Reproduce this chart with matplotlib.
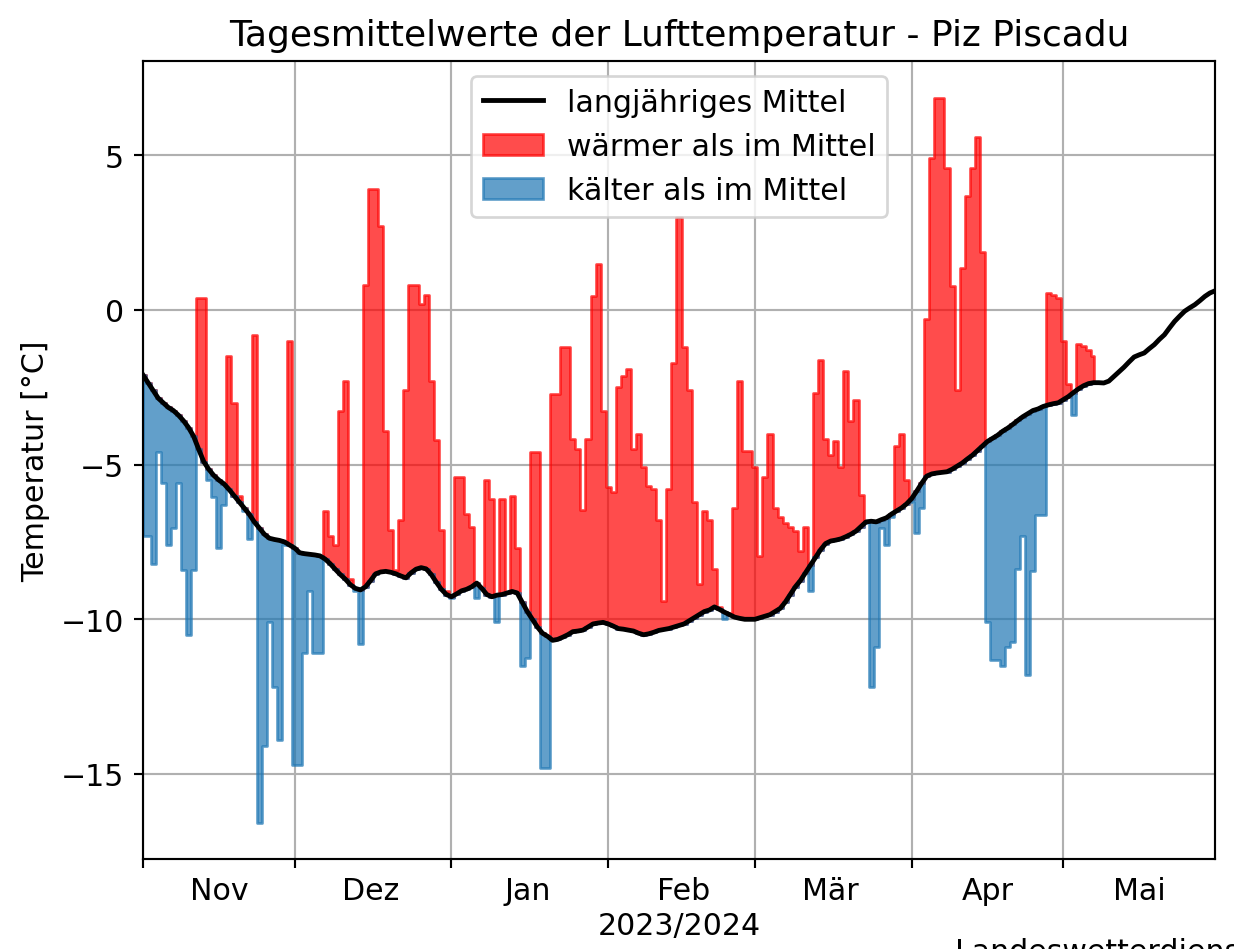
import numpy as np
import pandas as pd
import matplotlib
matplotlib.use("Agg")
import matplotlib.pyplot as plt
import matplotlib.dates as mdates
from matplotlib.ticker import FuncFormatter, NullFormatter

# ---------------- data (daily means, °C) ----------------
temp_nov = [-7.3, -7.3, -8.2, -4.6, -5.6, -7.6, -7.05, -5.6, -8.4, -10.5,
            -8.4, 0.4, 0.4, -5.5, -6.05, -7.7, -6.3, -1.5, -3.0, -6.0,
            -6.5, -7.4, -0.8, -16.6, -14.1, -10.1, -12.2, -13.9, -7.6, -1.0]
temp_dez = [-14.7, -14.7, -11.1, -9.1, -11.1, -11.1, -6.5, -7.3, -7.6, -3.25,
            -2.3, -8.7, -9.1, -10.8, 0.8, 3.9, 3.9, 2.7, -3.9, -7.1,
            -8.4, -6.8, -2.6, 0.8, 0.8, 0.2, 0.5, -2.3, -4.2, -7.1,
            -9.1]
temp_jan = [-9.3, -5.4, -5.4, -6.6, -7.0, -9.3, -9.0, -5.5, -6.1, -10.1,
            -6.1, -9.15, -6.0, -7.7, -11.5, -11.25, -4.6, -4.6, -14.8, -14.8,
            -2.7, -2.7, -1.2, -1.2, -4.16, -4.5, -6.47, -4.16, 0.46, 1.49,
            -3.25]
temp_feb = [-5.73, -5.9, -2.5, -2.13, -1.9, -4.5, -4.0, -5.07, -5.7, -5.8,
            -6.8, -9.4, -5.8, -1.73, 3.0, -1.19, -2.6, -6.2, -8.86, -6.5,
            -6.8, -8.37, -9.6, -10.0, -9.8, -6.4, -2.3, -4.57, -4.57]
temp_mar = [-5.07, -7.95, -5.4, -4.0, -6.4, -6.7, -6.9, -7.0, -7.13, -7.8,
            -7.0, -9.1, -2.67, -1.63, -4.16, -4.7, -4.24, -5.07, -1.96, -3.58,
            -2.9, -5.97, -6.9, -12.2, -10.9, -7.05, -7.6, -6.7, -4.4, -4.0,
            -5.5]
temp_apr = [-6.2, -7.2, -6.4, -0.28, 4.92, 6.85, 6.85, 4.6, 0.79, -2.6,
            1.37, 3.68, 4.59, 5.58, 1.86, -10.1, -11.3, -11.3, -11.5, -10.9,
            -10.75, -8.37, -7.3, -11.8, -8.45, -6.63, -6.63, 0.55, 0.5, 0.4]
temp_mai = [-1.0, -2.4, -3.4, -1.1, -1.15, -1.3, -1.5]

mean_nov = [-2.1, -2.35, -2.6, -2.85, -3.0, -3.15, -3.25, -3.4, -3.58, -3.8,
            -4.08, -4.5, -4.9, -5.15, -5.35, -5.5, -5.62, -5.8, -6.0, -6.2,
            -6.4, -6.6, -6.85, -7.05, -7.25, -7.38, -7.42, -7.45, -7.5, -7.6]
mean_dez = [-7.7, -7.85, -7.88, -7.9, -7.92, -7.95, -8.05, -8.2, -8.38, -8.55,
            -8.7, -8.88, -9.0, -9.05, -8.95, -8.75, -8.53, -8.47, -8.45, -8.48,
            -8.53, -8.6, -8.66, -8.5, -8.38, -8.33, -8.37, -8.55, -8.8, -9.03,
            -9.2]
mean_jan = [-9.27, -9.18, -9.08, -9.03, -8.95, -8.83, -9.0, -9.2, -9.27, -9.22,
            -9.2, -9.15, -9.1, -9.15, -9.45, -9.75, -10.0, -10.25, -10.45, -10.55,
            -10.68, -10.65, -10.58, -10.5, -10.4, -10.38, -10.35, -10.25, -10.15, -10.12,
            -10.1]
mean_feb = [-10.15, -10.22, -10.3, -10.32, -10.35, -10.38, -10.45, -10.5, -10.47, -10.42,
            -10.36, -10.33, -10.3, -10.25, -10.2, -10.15, -10.05, -9.95, -9.85, -9.75,
            -9.7, -9.6, -9.68, -9.77, -9.85, -9.93, -9.97, -10.0, -10.0]
mean_mar = [-10.0, -9.95, -9.9, -9.85, -9.75, -9.65, -9.45, -9.2, -8.95, -8.75,
            -8.5, -8.25, -8.0, -7.75, -7.55, -7.47, -7.44, -7.4, -7.33, -7.25,
            -7.15, -7.0, -6.85, -6.83, -6.85, -6.78, -6.72, -6.6, -6.5, -6.4,
            -6.27]
mean_apr = [-6.1, -5.86, -5.6, -5.37, -5.3, -5.27, -5.25, -5.23, -5.15, -5.05,
            -4.95, -4.82, -4.7, -4.55, -4.4, -4.25, -4.15, -4.05, -3.92, -3.82,
            -3.7, -3.57, -3.45, -3.35, -3.25, -3.2, -3.12, -3.07, -3.03, -3.0]
mean_mai = [-2.9, -2.8, -2.67, -2.55, -2.45, -2.38, -2.35, -2.35, -2.36, -2.3,
            -2.15, -2.0, -1.85, -1.68, -1.52, -1.45, -1.39, -1.25, -1.12, -0.95,
            -0.8, -0.58, -0.37, -0.2, -0.04, 0.07, 0.17, 0.3, 0.44, 0.55,
            0.62]

month_names = {11: "Nov", 12: "Dez", 1: "Jan", 2: "Feb", 3: "Mär", 4: "Apr", 5: "Mai"}
y_ticks = [-15, -10, -5, 0, 5]

title = "Tagesmittelwerte der Lufttemperatur - Piz Piscadu"
label_mean = "langjähriges Mittel"
label_warm = "wärmer als im Mittel"
label_cold = "kälter als im Mittel"

# ---------------- assemble ----------------
temp = np.array(temp_nov + temp_dez + temp_jan + temp_feb + temp_mar + temp_apr + temp_mai)
mean = np.array(mean_nov + mean_dez + mean_jan + mean_feb + mean_mar + mean_apr + mean_mai)
days_all = pd.date_range("2023-11-01", periods=len(mean), freq="D")
days = days_all[:len(temp)]
mean_sub = mean[:len(temp)]

warm = np.where(temp > mean_sub, temp, mean_sub)
cold = np.where(temp < mean_sub, temp, mean_sub)

plt.rcParams["font.size"] = 11.2

W, H = 1234, 950
dpi = 192.8
fig = plt.figure(figsize=(W / dpi, H / dpi), dpi=dpi)
ax = fig.add_axes([143 / W, 1 - 860 / H, (1215 - 143) / W, (860 - 62) / H])

ax.plot(days_all, mean, color="black", lw=1.8, label=label_mean, zorder=4)
ax.fill_between(days, mean_sub, warm, step="mid", color="red", alpha=0.7,
                label=label_warm, zorder=2)
ax.fill_between(days, mean_sub, cold, step="mid", color="tab:blue", alpha=0.7,
                label=label_cold, zorder=2)

ax.set_xlim(days_all[0], days_all[-1])
ax.set_ylim(-17.75, 8.05)
ax.set_yticks(y_ticks)

ax.xaxis.set_major_locator(mdates.MonthLocator())
ax.xaxis.set_major_formatter(NullFormatter())
ax.xaxis.set_minor_locator(mdates.MonthLocator(bymonthday=16))
ax.xaxis.set_minor_formatter(FuncFormatter(lambda v, p: month_names.get(mdates.num2date(v).month, "")))
ax.tick_params(axis="x", which="minor", length=0, pad=6.5)

ax.grid(True)
ax.set_title(title)
ax.set_ylabel("Temperatur [°C]")
ax.set_xlabel("2023/2024", labelpad=2)
ax.legend(loc="upper center")

fig.text(955 / W, 1 - 938 / H, "Landeswetterdienst Südtirol", ha="left", va="top")

fig.savefig("out.png", dpi=dpi)
